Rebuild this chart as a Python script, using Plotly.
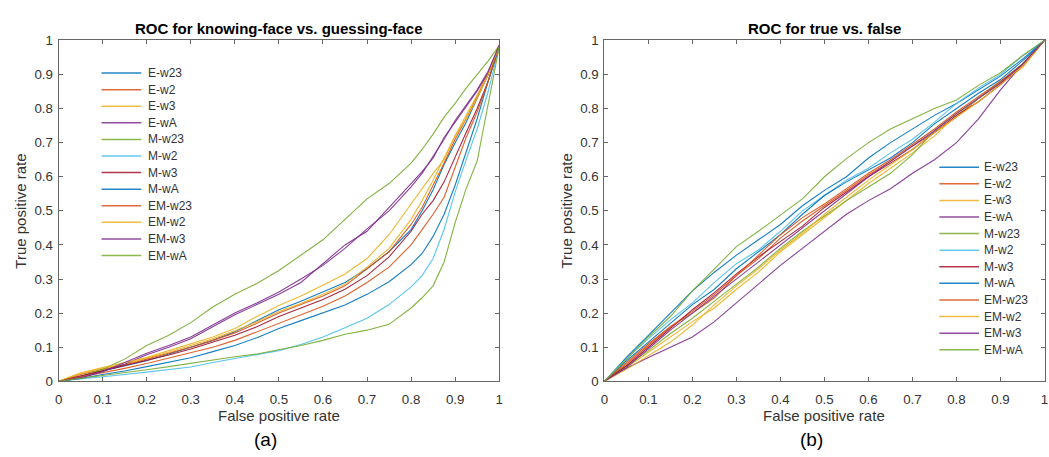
import plotly.graph_objects as go

W, H = 1049, 457

SERIES = ["E-w23", "E-w2", "E-w3", "E-wA", "M-w23", "M-w2",
          "M-w3", "M-wA", "EM-w23", "EM-w2", "EM-w3", "EM-wA"]
COLORS = ["#0072BD", "#D95319", "#EDB120", "#7E2F8E", "#77AC30", "#4DBEEE",
          "#A2142F", "#0072BD", "#D95319", "#EDB120", "#7E2F8E", "#77AC30"]

# ---- (a) knowing-face vs. guessing-face ----
FPR_A = [0, 0.05, 0.1, 0.15, 0.2, 0.25, 0.3, 0.35, 0.4, 0.45, 0.5, 0.55, 0.6,
         0.65, 0.7, 0.75, 0.8, 0.825, 0.85, 0.875, 0.9, 0.925, 0.95, 0.975, 1]
a_e_w23 = [0, 0.015, 0.03, 0.045, 0.06, 0.08, 0.1, 0.12, 0.145, 0.178, 0.21, 0.235, 0.262,
           0.29, 0.33, 0.38, 0.445, 0.5, 0.562, 0.636, 0.7, 0.76, 0.83, 0.9, 0.985]
a_e_w2 = [0, 0.02, 0.035, 0.048, 0.065, 0.082, 0.1, 0.12, 0.142, 0.17, 0.2, 0.225, 0.25,
          0.28, 0.33, 0.38, 0.46, 0.51, 0.575, 0.64, 0.71, 0.77, 0.835, 0.9, 0.985]
a_e_w3 = [0, 0.022, 0.038, 0.05, 0.068, 0.085, 0.105, 0.125, 0.148, 0.175, 0.205, 0.228, 0.255,
          0.285, 0.335, 0.39, 0.475, 0.53, 0.59, 0.655, 0.72, 0.78, 0.84, 0.905, 0.985]
a_e_wa = [0, 0.012, 0.03, 0.05, 0.078, 0.1, 0.125, 0.16, 0.195, 0.225, 0.255, 0.29, 0.345,
          0.4, 0.44, 0.51, 0.577, 0.615, 0.655, 0.715, 0.76, 0.805, 0.852, 0.905, 0.985]
a_m_w23 = [0, 0.015, 0.035, 0.065, 0.105, 0.135, 0.172, 0.218, 0.255, 0.287, 0.325, 0.37, 0.415,
           0.475, 0.535, 0.58, 0.64, 0.68, 0.725, 0.775, 0.815, 0.86, 0.9, 0.94, 0.985]
a_m_w2 = [0, 0.006, 0.012, 0.02, 0.027, 0.034, 0.042, 0.055, 0.066, 0.077, 0.09, 0.108, 0.13,
          0.157, 0.185, 0.225, 0.277, 0.31, 0.36, 0.446, 0.555, 0.65, 0.74, 0.85, 0.98]
a_m_w3 = [0, 0.015, 0.03, 0.045, 0.06, 0.077, 0.095, 0.115, 0.135, 0.16, 0.19, 0.215, 0.24,
          0.27, 0.31, 0.365, 0.44, 0.49, 0.53, 0.585, 0.66, 0.73, 0.8, 0.88, 0.985]
a_m_wa = [0, 0.008, 0.02, 0.03, 0.043, 0.055, 0.069, 0.087, 0.105, 0.128, 0.155, 0.178, 0.2,
          0.224, 0.255, 0.292, 0.342, 0.375, 0.425, 0.49, 0.575, 0.674, 0.77, 0.88, 0.98]
a_em_w23 = [0, 0.012, 0.025, 0.038, 0.052, 0.068, 0.083, 0.1, 0.12, 0.145, 0.172, 0.195, 0.22,
            0.25, 0.29, 0.335, 0.4, 0.445, 0.49, 0.54, 0.63, 0.715, 0.79, 0.88, 0.985]
a_em_w2 = [0, 0.025, 0.04, 0.055, 0.07, 0.09, 0.11, 0.13, 0.155, 0.19, 0.222, 0.25, 0.282,
           0.315, 0.36, 0.43, 0.52, 0.565, 0.61, 0.65, 0.72, 0.77, 0.83, 0.9, 0.985]
a_em_w3 = [0, 0.01, 0.028, 0.055, 0.082, 0.105, 0.13, 0.165, 0.2, 0.23, 0.262, 0.3, 0.34,
           0.39, 0.447, 0.5, 0.57, 0.61, 0.66, 0.71, 0.765, 0.81, 0.855, 0.91, 0.985]
a_em_wa = [0, 0.008, 0.016, 0.025, 0.034, 0.043, 0.053, 0.063, 0.072, 0.08, 0.092, 0.105, 0.12,
           0.138, 0.15, 0.167, 0.215, 0.245, 0.28, 0.35, 0.465, 0.565, 0.646, 0.81, 0.98]

# ---- (b) true vs. false ----
FPR_B = [0, 0.05, 0.1, 0.15, 0.2, 0.25, 0.3, 0.35, 0.4, 0.45, 0.5,
         0.55, 0.6, 0.65, 0.7, 0.75, 0.8, 0.85, 0.9, 0.95, 1]
b_e_w23 = [0, 0.07, 0.135, 0.2, 0.265, 0.32, 0.37, 0.415, 0.46, 0.515, 0.56,
           0.6, 0.655, 0.7, 0.74, 0.78, 0.815, 0.855, 0.895, 0.945, 1]
b_e_w2 = [0, 0.05, 0.105, 0.16, 0.205, 0.255, 0.31, 0.36, 0.42, 0.47, 0.515,
          0.56, 0.605, 0.645, 0.69, 0.73, 0.775, 0.83, 0.875, 0.93, 1]
b_e_w3 = [0, 0.04, 0.085, 0.13, 0.175, 0.215, 0.27, 0.32, 0.38, 0.43, 0.48,
          0.53, 0.58, 0.625, 0.67, 0.72, 0.78, 0.83, 0.875, 0.92, 1]
b_e_wa = [0, 0.038, 0.07, 0.1, 0.13, 0.175, 0.23, 0.285, 0.34, 0.39, 0.44,
          0.49, 0.53, 0.565, 0.61, 0.65, 0.7, 0.77, 0.855, 0.93, 1]
b_m_w23 = [0, 0.045, 0.09, 0.14, 0.185, 0.235, 0.285, 0.335, 0.39, 0.44, 0.485,
           0.53, 0.57, 0.61, 0.665, 0.735, 0.785, 0.83, 0.88, 0.93, 1]
b_m_w2 = [0, 0.065, 0.125, 0.18, 0.23, 0.29, 0.345, 0.385, 0.44, 0.5, 0.545,
          0.59, 0.625, 0.67, 0.71, 0.76, 0.815, 0.86, 0.9, 0.955, 1]
b_m_w3 = [0, 0.045, 0.1, 0.155, 0.21, 0.26, 0.315, 0.365, 0.41, 0.455, 0.51,
          0.555, 0.6, 0.64, 0.68, 0.73, 0.78, 0.82, 0.87, 0.925, 1]
b_m_wa = [0, 0.06, 0.115, 0.17, 0.225, 0.27, 0.33, 0.38, 0.43, 0.49, 0.545,
          0.585, 0.62, 0.655, 0.7, 0.755, 0.8, 0.845, 0.885, 0.94, 1]
b_em_w23 = [0, 0.055, 0.11, 0.16, 0.2, 0.245, 0.31, 0.37, 0.43, 0.48, 0.52,
            0.565, 0.61, 0.65, 0.695, 0.74, 0.79, 0.835, 0.88, 0.93, 1]
b_em_w2 = [0, 0.035, 0.075, 0.115, 0.165, 0.225, 0.28, 0.33, 0.385, 0.435, 0.49,
           0.54, 0.59, 0.635, 0.68, 0.73, 0.775, 0.82, 0.87, 0.925, 1]
b_em_w3 = [0, 0.04, 0.095, 0.15, 0.2, 0.25, 0.3, 0.35, 0.4, 0.45, 0.5,
           0.55, 0.6, 0.645, 0.69, 0.735, 0.785, 0.83, 0.875, 0.93, 1]
b_em_wa = [0, 0.065, 0.13, 0.19, 0.265, 0.33, 0.395, 0.44, 0.488, 0.535, 0.6,
           0.653, 0.7, 0.74, 0.77, 0.8, 0.825, 0.868, 0.905, 0.955, 1]

TPR_A = [a_e_w23, a_e_w2, a_e_w3, a_e_wa, a_m_w23, a_m_w2,
         a_m_w3, a_m_wa, a_em_w23, a_em_w2, a_em_w3, a_em_wa]
TPR_B = [b_e_w23, b_e_w2, b_e_w3, b_e_wa, b_m_w23, b_m_w2,
         b_m_w3, b_m_wa, b_em_w23, b_em_w2, b_em_w3, b_em_wa]

FONT = "Liberation Sans, Arial, sans-serif"
TEXT = "#333333"
AXIS = "#666666"


def px(x):
    return x / W


def py(y):
    return 1 - y / H


fig = go.Figure()
for name, color, tpr in zip(SERIES, COLORS, TPR_A):
    fig.add_trace(go.Scatter(x=FPR_A, y=tpr, mode="lines", name=name, opacity=0.9,
                             line=dict(color=color, width=1.1),
                             xaxis="x", yaxis="y", showlegend=False))
for name, color, tpr in zip(SERIES, COLORS, TPR_B):
    fig.add_trace(go.Scatter(x=FPR_B, y=tpr, mode="lines", name=name, opacity=0.9,
                             line=dict(color=color, width=1.1),
                             xaxis="x2", yaxis="y2", showlegend=False))

axis_style = dict(range=[0, 1], tick0=0, dtick=0.1, ticks="inside", ticklen=4,
                  tickcolor=AXIS, showline=True, linecolor=AXIS, linewidth=1,
                  mirror="ticks", showgrid=False, zeroline=False,
                  tickfont=dict(family=FONT, size=13.3, color=TEXT))

# axes boxes in pixel units
A_LEFT, A_RIGHT = 55, 499
B_LEFT, B_RIGHT = 605, 1048.5
TOP, BOTTOM = 34.5, 387

fig.update_layout(
    width=W, height=H, margin=dict(l=0, r=0, t=0, b=0),
    paper_bgcolor="white", plot_bgcolor="white",
    xaxis=dict(domain=[px(A_LEFT), px(A_RIGHT)], anchor="y", ticklabelstandoff=6, **axis_style),
    yaxis=dict(domain=[py(BOTTOM), py(TOP)], anchor="x", ticklabelstandoff=2, **axis_style),
    xaxis2=dict(domain=[px(B_LEFT), px(B_RIGHT)], anchor="y2", ticklabelstandoff=6, **axis_style),
    yaxis2=dict(domain=[py(BOTTOM), py(TOP)], anchor="x2", ticklabelstandoff=2, **axis_style),
)

annotations = []
shapes = []


def text(x, y, s, size, bold=False, angle=0, xanchor="center"):
    annotations.append(dict(
        x=px(x), y=py(y), xref="paper", yref="paper", text=f"<b>{s}</b>" if bold else s,
        showarrow=False, xanchor=xanchor, yanchor="middle", textangle=angle,
        font=dict(family=FONT, size=size, color=TEXT if not bold else "#000000")))


for left, right, title, tag in [(A_LEFT, A_RIGHT, "ROC for knowing-face vs. guessing-face", "(a)"),
                                (B_LEFT, B_RIGHT, "ROC for true vs. false", "(b)")]:
    cx = (left + right) / 2
    text(cx, 22.7, title, 15, bold=True)
    text(cx, 422, "False positive rate", 15)
    text(left - 38, (TOP + BOTTOM) / 2, "True positive rate", 15, angle=-90)
    annotations.append(dict(
        x=px(cx - 13), y=py(447), xref="paper", yref="paper", text=tag, showarrow=False,
        xanchor="center", yanchor="middle", font=dict(family=FONT, size=19, color="#000000")))

# legends (line sample + label) for each panel
for y0, x0, x1, xt in [(68.3, 98.3, 138.3, 142.7), (165.7, 942.5, 982.5, 986)]:
    for i, (name, color) in enumerate(zip(SERIES, COLORS)):
        yy = y0 + i * 17.15
        shapes.append(dict(type="line", xref="paper", yref="paper",
                           x0=px(x0), x1=px(x1), y0=py(yy), y1=py(yy),
                           line=dict(color=color, width=1.5), opacity=0.85))
        annotations.append(dict(
            x=px(xt), y=py(yy), xref="paper", yref="paper", text=name, showarrow=False,
            xanchor="left", yanchor="middle",
            font=dict(family=FONT, size=12, color=TEXT)))

fig.update_layout(annotations=annotations, shapes=shapes)

fig.write_html("out.html")
